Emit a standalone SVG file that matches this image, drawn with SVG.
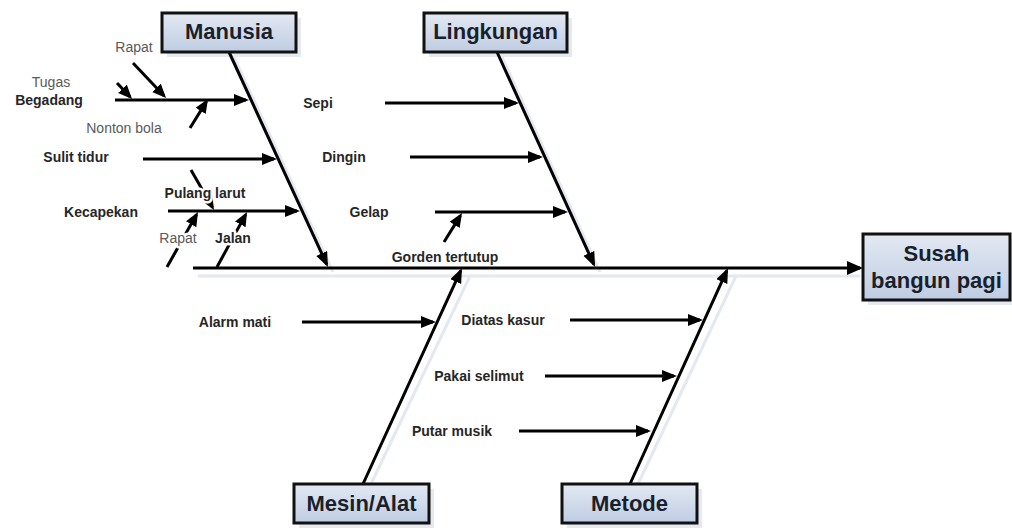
<svg xmlns="http://www.w3.org/2000/svg" width="1012" height="528" viewBox="0 0 1012 528">
  <defs>
    <linearGradient id="boxFill" x1="0" y1="0" x2="0" y2="1">
      <stop offset="0" stop-color="#e3e9f3"/>
      <stop offset="1" stop-color="#bfcce2"/>
    </linearGradient>
    <marker id="headSpine" markerUnits="userSpaceOnUse" markerWidth="18" markerHeight="16" refX="13" refY="7" orient="auto">
      <path d="M0,0 L16,7 L0,14 Z" fill="#000"/>
    </marker>
    <marker id="head" markerUnits="userSpaceOnUse" markerWidth="16" markerHeight="14" refX="12" refY="6" orient="auto">
      <path d="M0,0 L15,6 L0,12 Z" fill="#000"/>
    </marker>
    <marker id="headSmall" markerUnits="userSpaceOnUse" markerWidth="16" markerHeight="14" refX="11" refY="6" orient="auto">
      <path d="M0,0 L14,6 L0,12 Z" fill="#000"/>
    </marker>
    <style>
      .box { fill: url(#boxFill); stroke: #111; stroke-width: 3; }
      .shadow { fill: #e6e9f0; }
      .boxText { font-family: "Liberation Sans", Arial, sans-serif; font-weight: bold; font-size: 22px; fill: #1a1f2c; text-anchor: middle; }
      .lbl { font-family: "Liberation Sans", Arial, sans-serif; font-weight: bold; font-size: 14px; fill: #262626; }
      .sub { font-family: "Liberation Sans", Arial, sans-serif; font-size: 14px; fill: #5a5a5a; }
      .mask { paint-order: stroke; stroke: #fff; stroke-width: 5px; stroke-linejoin: round; }
      .bone { stroke: #000; stroke-width: 3; fill: none; }
      .boneShadow { stroke: #e4e8f0; stroke-width: 3; fill: none; }
      .branch { stroke: #000; stroke-width: 3; fill: none; }
    </style>
  </defs>

  <rect width="1012" height="528" fill="#fff"/>

  <!-- soft drop shadows under the main bones and boxes -->
  <g id="shadows">
    <line class="boneShadow" x1="198" y1="276" x2="860" y2="276"/>
    <line class="boneShadow" x1="234" y1="57" x2="333" y2="272"/>
    <line class="boneShadow" x1="502" y1="57" x2="600" y2="272"/>
    <line class="boneShadow" x1="371" y1="484" x2="470" y2="276"/>
    <line class="boneShadow" x1="638" y1="484" x2="736" y2="276"/>
    <rect class="shadow" x="167" y="18" width="134" height="39"/>
    <rect class="shadow" x="429" y="18" width="143" height="39"/>
    <rect class="shadow" x="299" y="489" width="135" height="39"/>
    <rect class="shadow" x="567" y="489" width="135" height="39"/>
    <rect class="shadow" x="868" y="239" width="147" height="66"/>
  </g>

  <g id="connectors">
    <!-- spine -->
    <line class="bone" x1="193" y1="268" x2="860" y2="268" marker-end="url(#headSpine)"/>
    <!-- category bones -->
    <line class="bone" x1="229" y1="52" x2="326.7" y2="264.3" marker-end="url(#head)"/>
    <line class="bone" x1="497" y1="52" x2="593.8" y2="264.3" marker-end="url(#head)"/>
    <line class="bone" x1="363" y1="484" x2="460.7" y2="270.7" marker-end="url(#head)"/>
    <line class="bone" x1="630" y1="484" x2="726.8" y2="270.7" marker-end="url(#head)"/>

    <!-- Manusia causes -->
    <line class="branch" x1="115" y1="100" x2="246" y2="100" marker-end="url(#head)"/>
    <line class="branch" x1="143" y1="159" x2="274" y2="159" marker-end="url(#head)"/>
    <line class="branch" x1="168" y1="211" x2="297" y2="211" marker-end="url(#head)"/>
    <line class="branch" x1="117" y1="83" x2="130" y2="96.8" marker-end="url(#headSmall)"/>
    <line class="branch" x1="133" y1="63" x2="164" y2="95.8" marker-end="url(#headSmall)"/>
    <line class="branch" x1="190" y1="128" x2="206.4" y2="101.6" marker-end="url(#headSmall)"/>
    <line class="branch" x1="191" y1="170" x2="212.5" y2="207.4" marker-end="url(#headSmall)"/>
    <line class="branch" x1="167" y1="267" x2="196.5" y2="214.6" marker-end="url(#headSmall)"/>
    <line class="branch" x1="217" y1="267" x2="245.6" y2="214.6" marker-end="url(#headSmall)"/>

    <!-- Lingkungan causes -->
    <line class="branch" x1="385" y1="103" x2="516" y2="103" marker-end="url(#head)"/>
    <line class="branch" x1="410" y1="157" x2="540" y2="157" marker-end="url(#head)"/>
    <line class="branch" x1="435" y1="212" x2="565" y2="212" marker-end="url(#head)"/>
    <line class="branch" x1="444" y1="242" x2="460.4" y2="215.6" marker-end="url(#headSmall)"/>

    <!-- Mesin/Alat causes -->
    <line class="branch" x1="302" y1="322" x2="433" y2="322" marker-end="url(#head)"/>

    <!-- Metode causes -->
    <line class="branch" x1="570" y1="320" x2="700" y2="320" marker-end="url(#head)"/>
    <line class="branch" x1="545" y1="376" x2="674" y2="376" marker-end="url(#head)"/>
    <line class="branch" x1="519" y1="431" x2="648" y2="431" marker-end="url(#head)"/>
  </g>

  <g id="labels">
    <text class="sub" x="134" y="52" text-anchor="middle">Rapat</text>
    <text class="sub" x="51" y="87" text-anchor="middle">Tugas</text>
    <text class="lbl" x="49" y="105" text-anchor="middle">Begadang</text>
    <text class="sub" x="124" y="133" text-anchor="middle">Nonton bola</text>
    <text class="lbl" x="76" y="162" text-anchor="middle">Sulit tidur</text>
    <text class="lbl mask" x="205" y="198" text-anchor="middle">Pulang larut</text>
    <text class="lbl" x="101" y="217" text-anchor="middle">Kecapekan</text>
    <text class="sub mask" x="178" y="243" text-anchor="middle">Rapat</text>
    <text class="lbl mask" x="233" y="243" text-anchor="middle">Jalan</text>

    <text class="lbl" x="318" y="108" text-anchor="middle">Sepi</text>
    <text class="lbl" x="344" y="162" text-anchor="middle">Dingin</text>
    <text class="lbl" x="369" y="217" text-anchor="middle">Gelap</text>
    <text class="lbl" x="445" y="262" text-anchor="middle">Gorden tertutup</text>

    <text class="lbl" x="235" y="327" text-anchor="middle">Alarm mati</text>
    <text class="lbl" x="503" y="325" text-anchor="middle">Diatas kasur</text>
    <text class="lbl" x="479" y="381" text-anchor="middle">Pakai selimut</text>
    <text class="lbl" x="452" y="436" text-anchor="middle">Putar musik</text>
  </g>

  <g id="node-manusia">
    <rect class="box" x="162" y="13" width="134" height="39"/>
    <text class="boxText" x="229" y="39">Manusia</text>
  </g>
  <g id="node-lingkungan">
    <rect class="box" x="424" y="13" width="143" height="39"/>
    <text class="boxText" x="495.5" y="39">Lingkungan</text>
  </g>
  <g id="node-mesin">
    <rect class="box" x="294" y="484" width="135" height="39"/>
    <text class="boxText" x="361.5" y="511">Mesin/Alat</text>
  </g>
  <g id="node-metode">
    <rect class="box" x="562" y="484" width="135" height="39"/>
    <text class="boxText" x="629.5" y="511">Metode</text>
  </g>
  <g id="node-effect">
    <rect class="box" x="863" y="234" width="147" height="66"/>
    <text class="boxText" x="936.5" y="261">Susah</text>
    <text class="boxText" x="936.5" y="288">bangun pagi</text>
  </g>
</svg>
